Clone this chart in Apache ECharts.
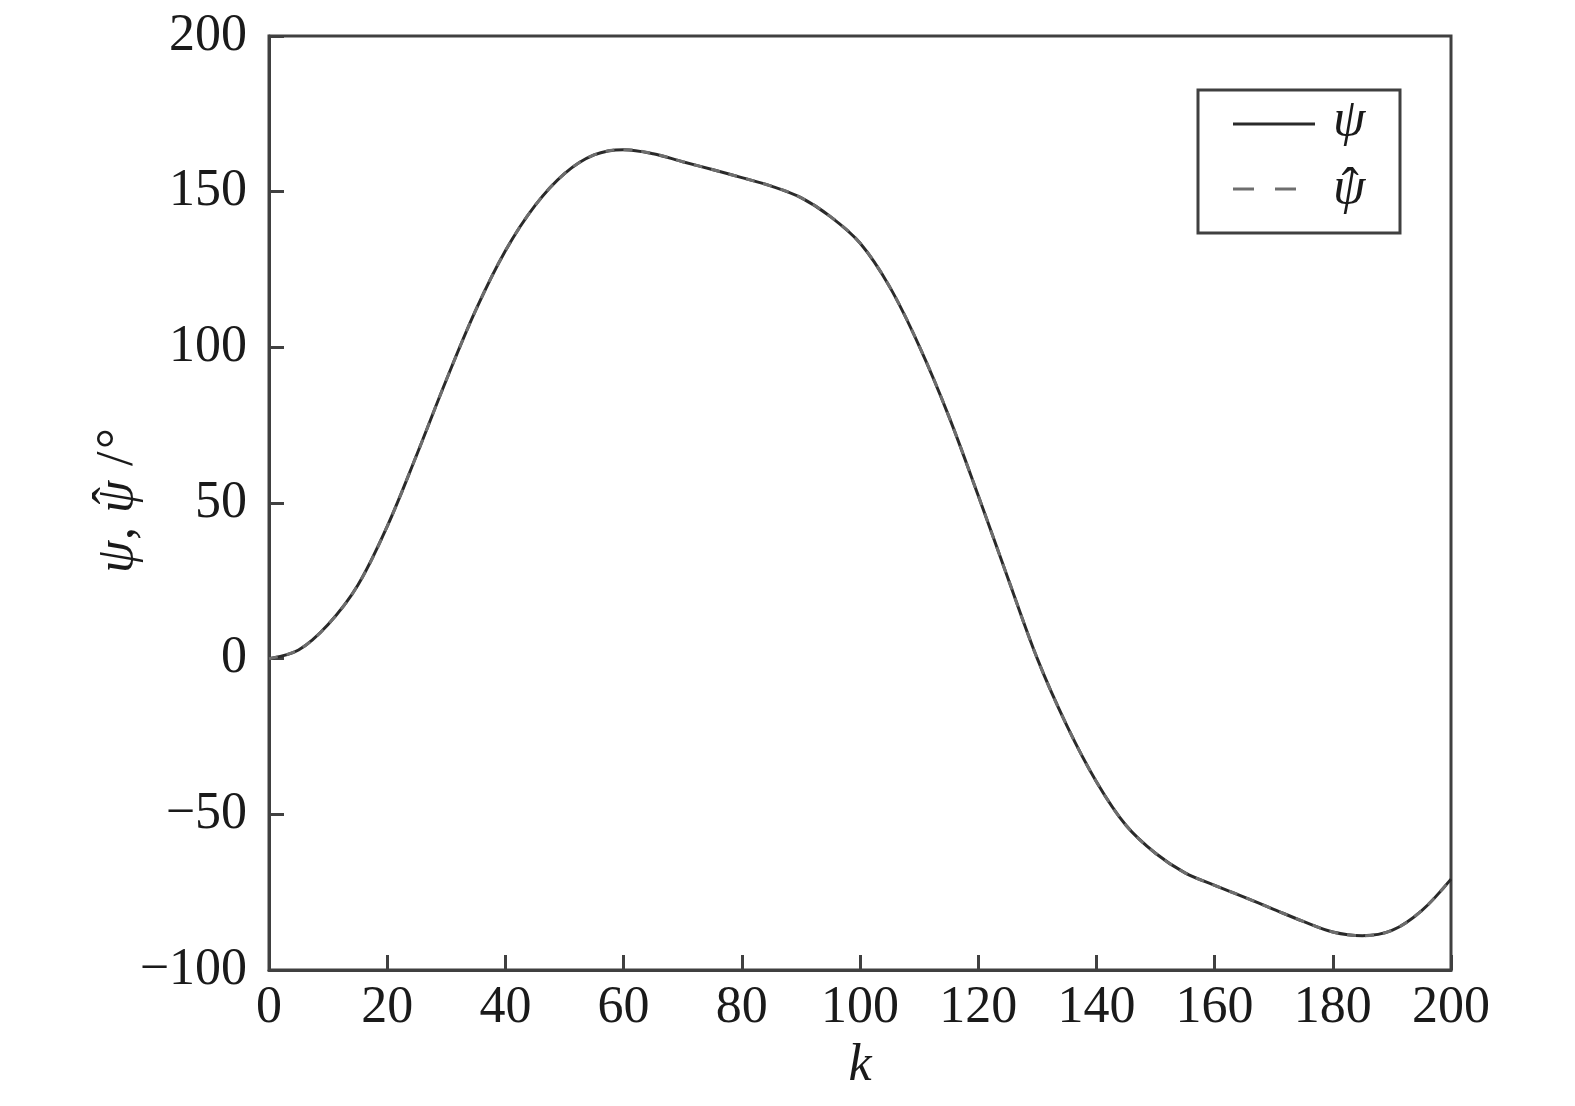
<!DOCTYPE html>
<html>
<head>
<meta charset="utf-8">
<script src="https://cdn.jsdelivr.net/npm/echarts@6/dist/echarts.min.js"></script>
<style>
html,body{margin:0;padding:0;background:#fff;}
#main{width:1575px;height:1106px;}
</style>
</head>
<body>
<div id="main"></div>
<script>
// k values (every 5 steps)
const kValues = [0,5,10,15,20,25,30,35,40,45,50,55,60,65,70,75,80,85,90,95,100,105,110,115,120,125,130,135,140,145,150,155,160,165,170,175,180,185,190,195,200];
// true heading psi (deg)
const psi = [0,2.8,11,23.5,42.5,65.5,89.5,112,131,145.5,155.8,161.8,163.5,162.2,159.6,157.1,154.5,151.8,148.1,142,133.5,119.5,100.5,78,52.4,26,0,-21.5,-39.5,-53.5,-62.5,-68.8,-72.8,-76.6,-80.5,-84.4,-87.8,-89,-87.3,-81,-70.8];
// estimated heading psi-hat (deg)
const psiHat = [0,2.8,11,23.5,42.5,65.5,89.5,112,131,145.5,155.8,161.8,163.5,162.2,159.6,157.1,154.5,151.8,148.1,142,133.5,119.5,100.5,78,52.4,26,0,-21.5,-39.5,-53.5,-62.5,-68.8,-72.8,-76.6,-80.5,-84.4,-87.8,-89,-87.3,-81,-70.8];
const xTicks = [0,20,40,60,80,100,120,140,160,180,200];
const yTicks = [-100,-50,0,50,100,150,200];
const seriesNames = ['ψ', 'ψ̂'];

const font = '"Liberation Serif","Times New Roman",serif';
const FS = 52;
const axisColor = '#404040';
const textColor = '#1a1a1a';
const chart = echarts.init(document.getElementById('main'));
const pair = (ys) => kValues.map((k, i) => [k, ys[i]]);

// text measuring for placing the hat accent
const cv = document.createElement('canvas').getContext('2d');
function tw(str, italic) {
  cv.font = (italic ? 'italic ' : '') + FS + 'px ' + font;
  return cv.measureText(str).width;
}
const wPsi = tw('ψ', true);

const italicStyle = {fontFamily: font, fontStyle: 'italic', fontSize: FS, fill: textColor, verticalAlign: 'middle', align: 'left'};
const normalStyle = {fontFamily: font, fontSize: FS, fill: textColor, verticalAlign: 'middle', align: 'left'};

chart.setOption({
  animation: false,
  backgroundColor: '#fff',
  grid: {left: 269, right: 124, top: 36, bottom: 136, show: true, borderColor: axisColor, borderWidth: 3},
  xAxis: {
    type: 'value', min: xTicks[0], max: xTicks[xTicks.length-1], interval: 20,
    axisLine: {onZero: false, lineStyle: {color: axisColor, width: 3}},
    axisTick: {inside: true, length: 15, lineStyle: {color: axisColor, width: 3}},
    splitLine: {show: false},
    axisLabel: {color: textColor, fontFamily: font, fontSize: FS, margin: 12},
    name: 'k', nameLocation: 'middle', nameGap: 70,
    nameTextStyle: {fontFamily: font, fontStyle: 'italic', fontSize: FS, color: textColor}
  },
  yAxis: {
    type: 'value', min: yTicks[0], max: yTicks[yTicks.length-1], interval: 50,
    axisLine: {lineStyle: {color: axisColor, width: 3}},
    axisTick: {inside: true, length: 15, lineStyle: {color: axisColor, width: 3}},
    splitLine: {show: false},
    axisLabel: {color: textColor, fontFamily: font, fontSize: FS, margin: 22,
      formatter: v => v < 0 ? '\u2212' + Math.abs(v) : String(v)}
  },
  series: [
    {name: seriesNames[0], type: 'line', data: pair(psi), smooth: 0.35, symbol: 'none',
     lineStyle: {color: '#2a2a2a', width: 3}, itemStyle: {color: '#2a2a2a'}, z: 2},
    {name: seriesNames[1], type: 'line', data: pair(psiHat), smooth: 0.35, symbol: 'none',
     lineStyle: {color: '#6e6e6e', width: 3, type: [9, 9]}, itemStyle: {color: '#6e6e6e'}, z: 3}
  ],
  graphic: [
    // legend box
    {type: 'rect', shape: {x: 1198, y: 90, width: 202, height: 143},
     style: {fill: '#fff', stroke: axisColor, lineWidth: 3}, z: 10},
    {type: 'line', shape: {x1: 1233, y1: 124, x2: 1315, y2: 124},
     style: {stroke: '#2a2a2a', lineWidth: 3}, z: 11},
    {type: 'line', shape: {x1: 1233, y1: 189, x2: 1315, y2: 189},
     style: {stroke: '#6e6e6e', lineWidth: 3, lineDash: [21, 21]}, z: 11},
    {type: 'text', x: 1333, y: 121, z: 11, style: Object.assign({text: seriesNames[0]}, italicStyle)},
    {type: 'text', x: 1333, y: 189, z: 11, style: Object.assign({text: 'ψ'}, italicStyle)},
    {type: 'text', x: 1333 + wPsi / 2 + 1, y: 190, z: 11,
     style: {text: 'ˆ', fontFamily: font, fontSize: FS, fill: textColor, verticalAlign: 'middle', align: 'center'}},
    // y-axis title, rotated (reads bottom to top)
    {type: 'group', x: 118, y: 573, rotation: Math.PI / 2, z: 11,
     children: [
       {type: 'text', x: 0, y: 0, style: Object.assign({text: 'ψ'}, italicStyle)},
       {type: 'text', x: 33, y: 0, style: Object.assign({text: ','}, normalStyle)},
       {type: 'text', x: 60, y: 0, style: Object.assign({text: 'ψ'}, italicStyle)},
       {type: 'text', x: 60 + wPsi / 2 + 1, y: -3,
        style: {text: 'ˆ', fontFamily: font, fontSize: FS, fill: textColor, verticalAlign: 'middle', align: 'center'}},
       {type: 'text', x: 107, y: 0, style: Object.assign({text: '/'}, normalStyle)},
       {type: 'text', x: 124, y: 0, style: Object.assign({text: '°'}, normalStyle)}
     ]}
  ]
});
</script>
</body>
</html>
